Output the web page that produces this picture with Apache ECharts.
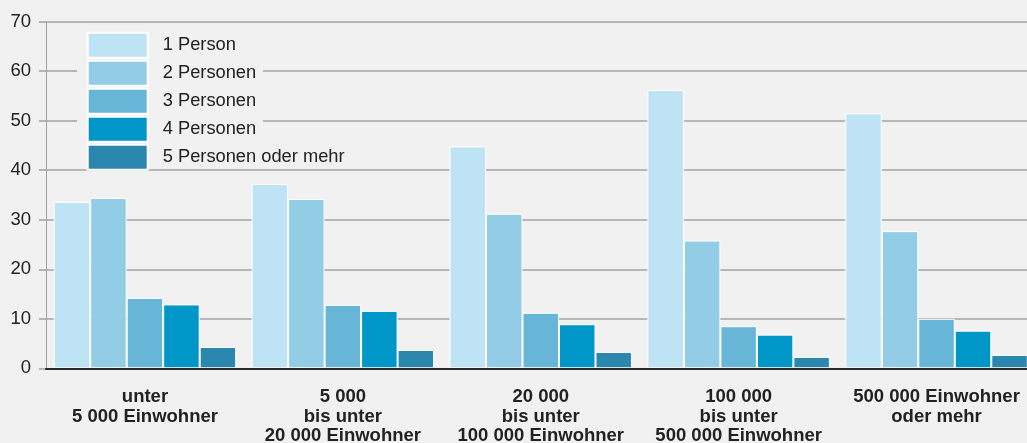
<!DOCTYPE html>
<html>
<head>
<meta charset="utf-8">
<script src="https://cdn.jsdelivr.net/npm/echarts@6/dist/echarts.min.js"></script>
<style>
html,body{margin:0;padding:0;background:#f1f1f1;}
#c{width:1027px;height:443px;}
</style>
</head>
<body>
<div id="c"></div>
<script>
const categories = [
  "unter\n5 000 Einwohner",
  "5 000\nbis unter\n20 000 Einwohner",
  "20 000\nbis unter\n100 000 Einwohner",
  "100 000\nbis unter\n500 000 Einwohner",
  "500 000 Einwohner\noder mehr"
];
const seriesNames = ["1 Person", "2 Personen", "3 Personen", "4 Personen", "5 Personen oder mehr"];
const person1 = [33.6, 37.2, 44.8, 56.2, 51.5];
const person2 = [34.4, 34.2, 31.2, 25.8, 27.7];
const person3 = [14.2, 12.8, 11.2, 8.5, 10.0];
const person4 = [12.9, 11.6, 8.9, 6.8, 7.6];
const person5 = [4.3, 3.7, 3.3, 2.3, 2.7];
const colors = ["#bee3f4", "#93cce5", "#67b6d8", "#0096c8", "#2b87ae"];
const yTicks = [0, 10, 20, 30, 40, 50, 60, 70];

const allValues = [person1, person2, person3, person4, person5];
const FONT = "'Liberation Sans', Arial, Helvetica, sans-serif";

const chart = echarts.init(document.getElementById('c'), null, {renderer: 'canvas'});
chart.setOption({
  backgroundColor: '#f1f1f1',
  animation: false,
  textStyle: {fontFamily: FONT},
  grid: {left: 46, top: 21.7, width: 989.5, bottom: 74.7, containLabel: false, outerBoundsMode: 'none'},
  graphic: [{
    type: 'rect', z: 1, silent: true,
    shape: {x: 77, y: 27, width: 186, height: 138},
    style: {fill: '#f1f1f1'}
  }],
  legend: {
    orient: 'vertical', left: 86.7, top: 31.7, padding: 0,
    itemWidth: 60, itemHeight: 25, itemGap: 1,
    data: seriesNames,
    textStyle: {fontFamily: FONT, fontSize: 18.3, color: '#222', padding: [0, 0, 0, 10]},
    icon: 'rect'
  },
  xAxis: {
    type: 'category', data: categories, z: 10,
    axisLine: {show: true, lineStyle: {color: '#2a2a2a', width: 2}},
    axisTick: {show: false},
    axisLabel: {
      interval: 0, margin: 19, color: '#222',
      fontFamily: FONT, fontSize: 18.5, fontWeight: 'bold', lineHeight: 19.5
    },
    splitLine: {show: false}
  },
  yAxis: {
    type: 'value', min: yTicks[0], max: yTicks[yTicks.length - 1], interval: 10,
    axisLine: {show: true, lineStyle: {color: '#a0a0a0', width: 1}},
    axisTick: {show: true, length: 7, inside: false, lineStyle: {color: '#a0a0a0', width: 1.5}},
    axisLabel: {margin: 15, color: '#222', fontFamily: FONT, fontSize: 18.5},
    splitLine: {show: true, lineStyle: {color: '#a3a3a3', width: 1.5}}
  },
  series: seriesNames.map((name, i) => ({
    name: name, type: 'bar', data: allValues[i],
    barGap: 0, barCategoryGap: '7.8%',
    itemStyle: {color: colors[i], borderColor: '#ffffff', borderWidth: 1}
  }))
});
</script>
</body>
</html>
